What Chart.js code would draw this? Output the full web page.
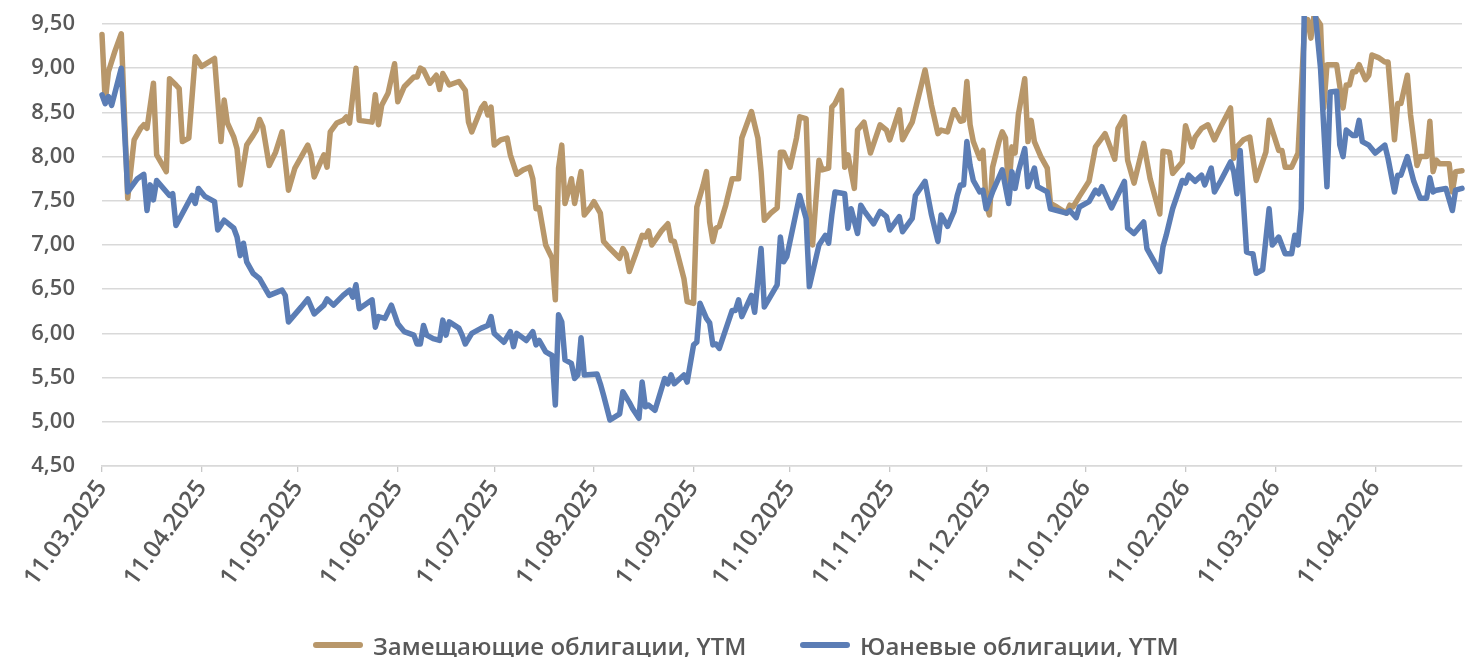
<!DOCTYPE html>
<html><head><meta charset="utf-8">
<script src="https://cdn.jsdelivr.net/npm/chart.js@4"></script>
<style>
html,body{margin:0;padding:0;background:#fff;}
#wrap{position:relative;width:1469px;height:657px;overflow:hidden;}
#legend{position:absolute;left:0;top:627px;width:1469px;height:36px;font-family:'Open Sans',sans-serif;font-weight:600;font-size:24px;color:#595959;}
.item{position:absolute;top:0;display:flex;align-items:center;height:36px;white-space:nowrap;}
.sw{display:inline-block;width:50px;height:6px;border-radius:3px;margin-right:10px;}
</style></head>
<body><div id="wrap"><canvas id="c" width="1469" height="657"></canvas><div id="legend"></div></div>
<script>
const seriesNames = ['Замещающие облигации, YTM', 'Юаневые облигации, YTM'];
const seriesColors = ['#B8976A', '#5B7DB5'];
const tickLabels = ['11.03.2025','11.04.2025','11.05.2025','11.06.2025','11.07.2025','11.08.2025','11.09.2025','11.10.2025','11.11.2025','11.12.2025','11.01.2026','11.02.2026','11.03.2026','11.04.2026'];

const goldDates = ['11.03.2025','12.03.2025','13.03.2025','15.03.2025','17.03.2025','19.03.2025','21.03.2025','23.03.2025','24.03.2025','25.03.2025','27.03.2025','28.03.2025','31.03.2025','01.04.2025','03.04.2025','04.04.2025','05.04.2025','07.04.2025','09.04.2025','11.04.2025','15.04.2025','17.04.2025','18.04.2025','19.04.2025','21.04.2025','22.04.2025','23.04.2025','25.04.2025','27.04.2025','28.04.2025','29.04.2025','30.04.2025','02.05.2025','04.05.2025','06.05.2025','08.05.2025','10.05.2025','14.05.2025','15.05.2025','16.05.2025','18.05.2025','19.05.2025','20.05.2025','21.05.2025','23.05.2025','25.05.2025','26.05.2025','27.05.2025','29.05.2025','30.05.2025','03.06.2025','04.06.2025','05.06.2025','06.06.2025','08.06.2025','10.06.2025','11.06.2025','13.06.2025','16.06.2025','17.06.2025','18.06.2025','19.06.2025','21.06.2025','23.06.2025','24.06.2025','25.06.2025','27.06.2025','30.06.2025','02.07.2025','03.07.2025','04.07.2025','07.07.2025','08.07.2025','09.07.2025','10.07.2025','11.07.2025','13.07.2025','15.07.2025','16.07.2025','18.07.2025','20.07.2025','22.07.2025','23.07.2025','24.07.2025','25.07.2025','27.07.2025','29.07.2025','30.07.2025','31.07.2025','01.08.2025','02.08.2025','03.08.2025','04.08.2025','05.08.2025','07.08.2025','08.08.2025','10.08.2025','11.08.2025','13.08.2025','14.08.2025','16.08.2025','19.08.2025','20.08.2025','21.08.2025','22.08.2025','24.08.2025','26.08.2025','27.08.2025','28.08.2025','29.08.2025','01.09.2025','03.09.2025','04.09.2025','05.09.2025','08.09.2025','09.09.2025','11.09.2025','12.09.2025','14.09.2025','15.09.2025','16.09.2025','17.09.2025','18.09.2025','19.09.2025','21.09.2025','23.09.2025','25.09.2025','26.09.2025','29.09.2025','01.10.2025','02.10.2025','03.10.2025','05.10.2025','07.10.2025','08.10.2025','09.10.2025','11.10.2025','13.10.2025','14.10.2025','16.10.2025','17.10.2025','18.10.2025','20.10.2025','21.10.2025','23.10.2025','24.10.2025','25.10.2025','27.10.2025','28.10.2025','29.10.2025','31.10.2025','01.11.2025','03.11.2025','05.11.2025','08.11.2025','10.11.2025','11.11.2025','14.11.2025','15.11.2025','16.11.2025','18.11.2025','22.11.2025','24.11.2025','26.11.2025','27.11.2025','29.11.2025','01.12.2025','03.12.2025','04.12.2025','05.12.2025','06.12.2025','07.12.2025','09.12.2025','10.12.2025','11.12.2025','12.12.2025','13.12.2025','15.12.2025','16.12.2025','17.12.2025','18.12.2025','19.12.2025','20.12.2025','21.12.2025','23.12.2025','24.12.2025','25.12.2025','26.12.2025','28.12.2025','30.12.2025','31.12.2025','02.01.2026','05.01.2026','06.01.2026','07.01.2026','09.01.2026','12.01.2026','14.01.2026','17.01.2026','20.01.2026','21.01.2026','23.01.2026','24.01.2026','26.01.2026','29.01.2026','31.01.2026','03.02.2026','04.02.2026','06.02.2026','07.02.2026','10.02.2026','11.02.2026','13.02.2026','14.02.2026','16.02.2026','18.02.2026','20.02.2026','22.02.2026','25.02.2026','26.02.2026','27.02.2026','01.03.2026','03.03.2026','05.03.2026','08.03.2026','09.03.2026','12.03.2026','13.03.2026','14.03.2026','16.03.2026','18.03.2026','20.03.2026','21.03.2026','22.03.2026','23.03.2026','25.03.2026','26.03.2026','27.03.2026','30.03.2026','01.04.2026','02.04.2026','03.04.2026','04.04.2026','05.04.2026','06.04.2026','08.04.2026','09.04.2026','10.04.2026','12.04.2026','14.04.2026','15.04.2026','17.04.2026','18.04.2026','19.04.2026','21.04.2026','22.04.2026','24.04.2026','25.04.2026','27.04.2026','28.04.2026','29.04.2026','30.04.2026','01.05.2026','04.05.2026','05.05.2026','06.05.2026','08.05.2026'];
const goldValues = [9.38,8.62,8.96,9.19,9.39,7.53,8.19,8.32,8.36,8.32,8.83,8.02,7.83,8.88,8.81,8.77,8.17,8.21,9.13,9.02,9.11,8.17,8.64,8.38,8.22,8.09,7.68,8.13,8.24,8.30,8.42,8.34,7.90,8.05,8.28,7.62,7.87,8.13,8.02,7.77,7.94,8.02,7.88,8.28,8.38,8.41,8.45,8.38,9.00,8.41,8.39,8.70,8.36,8.58,8.72,9.05,8.62,8.79,8.90,8.90,9.00,8.98,8.83,8.92,8.76,8.94,8.81,8.85,8.75,8.39,8.28,8.55,8.60,8.47,8.56,8.13,8.19,8.21,8.02,7.80,7.85,7.88,7.75,7.41,7.42,7.00,6.85,6.38,7.87,8.13,7.47,7.60,7.75,7.47,7.83,7.34,7.43,7.49,7.36,7.04,6.96,6.85,6.96,6.90,6.70,6.90,7.11,7.09,7.16,7.00,7.16,7.24,7.05,7.04,6.62,6.36,6.34,7.43,7.68,7.83,7.26,7.04,7.19,7.21,7.45,7.75,7.75,8.21,8.51,8.21,7.83,7.28,7.36,7.42,8.05,8.05,7.88,8.21,8.45,8.43,7.34,7.00,7.96,7.85,7.87,8.56,8.60,8.75,7.88,8.02,7.64,8.30,8.39,8.04,8.36,8.30,8.19,8.53,8.19,8.26,8.39,8.98,8.58,8.26,8.30,8.28,8.53,8.40,8.41,8.85,8.36,8.17,7.98,8.07,7.47,7.34,7.88,8.17,8.28,8.21,7.60,8.11,8.04,8.47,8.88,8.17,8.41,8.17,8.00,7.87,7.47,7.43,7.36,7.45,7.43,7.55,7.72,8.11,8.26,7.97,8.32,8.45,7.96,7.70,8.15,7.75,7.35,8.06,8.05,7.81,7.94,8.35,8.11,8.22,8.32,8.36,8.19,8.34,8.55,7.98,8.11,8.19,8.22,7.73,8.05,8.41,8.07,8.07,7.88,7.88,8.04,9.45,9.55,9.34,9.60,9.49,8.55,9.04,9.04,8.55,8.81,8.81,8.96,8.96,9.04,8.87,8.92,9.15,9.12,9.07,9.07,8.19,8.60,8.60,8.92,8.47,7.90,8.00,8.00,8.40,7.83,7.96,7.92,7.92,7.60,7.83,7.84];

const blueDates = ['11.03.2025','12.03.2025','13.03.2025','14.03.2025','17.03.2025','19.03.2025','22.03.2025','24.03.2025','25.03.2025','26.03.2025','27.03.2025','28.03.2025','01.04.2025','02.04.2025','03.04.2025','08.04.2025','09.04.2025','10.04.2025','12.04.2025','15.04.2025','16.04.2025','18.04.2025','21.04.2025','22.04.2025','23.04.2025','24.04.2025','25.04.2025','27.04.2025','29.04.2025','02.05.2025','06.05.2025','07.05.2025','08.05.2025','12.05.2025','14.05.2025','16.05.2025','19.05.2025','20.05.2025','22.05.2025','25.05.2025','27.05.2025','28.05.2025','29.05.2025','30.05.2025','03.06.2025','04.06.2025','05.06.2025','07.06.2025','09.06.2025','11.06.2025','13.06.2025','16.06.2025','17.06.2025','18.06.2025','19.06.2025','20.06.2025','22.06.2025','24.06.2025','25.06.2025','26.06.2025','27.06.2025','30.06.2025','01.07.2025','02.07.2025','04.07.2025','07.07.2025','09.07.2025','10.07.2025','11.07.2025','14.07.2025','16.07.2025','17.07.2025','18.07.2025','21.07.2025','23.07.2025','24.07.2025','25.07.2025','27.07.2025','29.07.2025','30.07.2025','31.07.2025','01.08.2025','02.08.2025','04.08.2025','05.08.2025','06.08.2025','07.08.2025','08.08.2025','12.08.2025','13.08.2025','14.08.2025','16.08.2025','19.08.2025','20.08.2025','22.08.2025','23.08.2025','25.08.2025','26.08.2025','27.08.2025','28.08.2025','30.08.2025','02.09.2025','03.09.2025','04.09.2025','05.09.2025','08.09.2025','09.09.2025','11.09.2025','12.09.2025','13.09.2025','15.09.2025','16.09.2025','17.09.2025','18.09.2025','19.09.2025','23.09.2025','24.09.2025','25.09.2025','26.09.2025','29.09.2025','30.09.2025','02.10.2025','03.10.2025','07.10.2025','08.10.2025','09.10.2025','10.10.2025','14.10.2025','16.10.2025','17.10.2025','20.10.2025','22.10.2025','23.10.2025','24.10.2025','25.10.2025','28.10.2025','29.10.2025','30.10.2025','01.11.2025','02.11.2025','03.11.2025','06.11.2025','08.11.2025','10.11.2025','11.11.2025','14.11.2025','15.11.2025','18.11.2025','19.11.2025','22.11.2025','24.11.2025','26.11.2025','27.11.2025','29.11.2025','01.12.2025','02.12.2025','03.12.2025','04.12.2025','05.12.2025','06.12.2025','07.12.2025','09.12.2025','10.12.2025','11.12.2025','13.12.2025','16.12.2025','18.12.2025','19.12.2025','20.12.2025','21.12.2025','23.12.2025','24.12.2025','26.12.2025','27.12.2025','30.12.2025','31.12.2025','05.01.2026','06.01.2026','08.01.2026','09.01.2026','12.01.2026','14.01.2026','15.01.2026','16.01.2026','19.01.2026','23.01.2026','24.01.2026','26.01.2026','29.01.2026','30.01.2026','03.02.2026','04.02.2026','05.02.2026','07.02.2026','10.02.2026','11.02.2026','12.02.2026','14.02.2026','16.02.2026','17.02.2026','19.02.2026','20.02.2026','22.02.2026','25.02.2026','26.02.2026','27.02.2026','28.02.2026','02.03.2026','04.03.2026','05.03.2026','07.03.2026','09.03.2026','10.03.2026','12.03.2026','14.03.2026','16.03.2026','17.03.2026','18.03.2026','19.03.2026','20.03.2026','23.03.2026','25.03.2026','27.03.2026','28.03.2026','30.03.2026','31.03.2026','01.04.2026','02.04.2026','04.04.2026','05.04.2026','06.04.2026','07.04.2026','09.04.2026','11.04.2026','14.04.2026','15.04.2026','17.04.2026','18.04.2026','19.04.2026','21.04.2026','23.04.2026','25.04.2026','27.04.2026','28.04.2026','29.04.2026','30.04.2026','03.05.2026','05.05.2026','06.05.2026','08.05.2026'];
const blueValues = [8.70,8.60,8.68,8.58,9.00,7.60,7.75,7.80,7.39,7.68,7.51,7.73,7.56,7.58,7.22,7.56,7.47,7.64,7.55,7.49,7.17,7.28,7.19,7.09,6.88,7.02,6.81,6.68,6.62,6.43,6.49,6.43,6.13,6.30,6.39,6.22,6.32,6.39,6.32,6.43,6.49,6.41,6.55,6.28,6.38,6.07,6.19,6.17,6.32,6.11,6.02,5.98,5.88,5.88,6.09,5.98,5.94,5.92,6.15,5.98,6.13,6.06,5.98,5.88,6.00,6.06,6.09,6.19,6.00,5.90,6.02,5.85,6.00,5.92,6.02,5.87,5.92,5.79,5.75,5.19,6.21,6.13,5.70,5.66,5.49,5.53,5.95,5.53,5.54,5.43,5.30,5.02,5.09,5.34,5.22,5.15,5.04,5.45,5.17,5.19,5.13,5.49,5.43,5.53,5.43,5.53,5.45,5.87,5.90,6.34,6.17,6.12,5.87,5.88,5.83,6.26,6.26,6.38,6.19,6.43,6.24,6.96,6.30,6.55,7.09,6.81,6.87,7.56,7.30,6.53,7.00,7.11,7.02,7.34,7.60,7.58,7.19,7.41,7.13,7.45,7.39,7.24,7.38,7.32,7.17,7.32,7.15,7.30,7.56,7.72,7.34,7.04,7.34,7.21,7.38,7.56,7.68,7.68,8.17,7.90,7.73,7.60,7.62,7.41,7.60,7.85,7.47,7.83,7.64,7.83,8.09,7.66,7.87,7.66,7.60,7.41,7.36,7.39,7.31,7.43,7.49,7.62,7.58,7.66,7.42,7.72,7.19,7.13,7.26,6.96,6.70,6.98,7.11,7.41,7.73,7.70,7.79,7.72,7.79,7.68,7.87,7.60,7.73,7.94,7.83,7.58,8.07,6.92,6.90,6.68,6.72,7.41,7.00,7.09,6.90,6.90,7.11,7.00,7.41,9.80,9.75,9.00,7.66,8.73,8.74,8.13,8.00,8.30,8.24,8.24,8.41,8.17,8.13,8.04,8.13,7.98,7.60,7.79,7.79,8.00,7.72,7.53,7.53,7.76,7.60,7.62,7.64,7.39,7.62,7.64];

function dayNum(s){const p=s.split('.').map(Number);return Date.UTC(p[2],p[1]-1,p[0])/86400000;}
const base = dayNum(tickLabels[0]);
const toPts = (dates, vals) => dates.map((d,i)=>({x: dayNum(d)-base, y: vals[i]}));
const tickDays = tickLabels.map(t=>dayNum(t)-base);
const labelByDay = {}; tickLabels.forEach((t,i)=>labelByDay[tickDays[i]]=t);
const lastDay = Math.max(dayNum(goldDates[goldDates.length-1]), dayNum(blueDates[blueDates.length-1])) - base;

const FONT = "'Open Sans', sans-serif";
const TXT = '#595959';

new Chart(document.getElementById('c'), {
  type: 'line',
  data: {
    datasets: [
      {label: seriesNames[0], data: toPts(goldDates, goldValues), borderColor: seriesColors[0], order: 1},
      {label: seriesNames[1], data: toPts(blueDates, blueValues), borderColor: seriesColors[1], order: 0}
    ].map(d=>Object.assign(d,{borderWidth:5.5, pointRadius:0, tension:0, fill:false, borderJoinStyle:'round', borderCapStyle:'round', clip:{left:4,right:4,top:8,bottom:4}}))
  },
  options: {
    responsive: false,
    animation: false,
    devicePixelRatio: 1,
    layout: {padding: {top: 24, right: 7, left: 0, bottom: 0}},
    plugins: {legend: {display: false}, tooltip: {enabled: false}},
    scales: {
      x: {
        type: 'linear', min: 0, max: lastDay,
        afterBuildTicks: s => { s.ticks = tickDays.map(v=>({value:v})); },
        afterFit: s => { s.height = 191; },
        grid: {drawOnChartArea: false, drawTicks: true, tickLength: 6, color: '#c8c8c8', lineWidth: 1.3},
        border: {display: true, color: '#d9d9d9', width: 1.5},
        ticks: {autoSkip: false, maxRotation: 54, minRotation: 54, padding: 3, color: TXT,
          font: {family: FONT, size: 24, weight: '600'},
          callback: v => labelByDay[v] || ''}
      },
      y: {
        min: 4.5, max: 9.5,
        afterFit: s => { s.width = 102; },
        grid: {color: '#d9d9d9', lineWidth: 1.5, drawTicks: true, tickLength: 27, tickColor: 'rgba(0,0,0,0)'},
        border: {display: false},
        ticks: {stepSize: 0.5, padding: 0, color: TXT, font: {family: FONT, size: 22, weight: '600'},
          callback: v => v.toFixed(2).replace('.', ',')}
      }
    }
  }
});

const lg = document.getElementById('legend');
const lefts = [313, 800];
seriesNames.forEach((n,i)=>{
  const it = document.createElement('div'); it.className='item'; it.style.left = lefts[i]+'px';
  const sw = document.createElement('span'); sw.className='sw'; sw.style.background = seriesColors[i];
  const tx = document.createElement('span'); tx.textContent = n;
  it.appendChild(sw); it.appendChild(tx); lg.appendChild(it);
});
</script>
</body></html>
